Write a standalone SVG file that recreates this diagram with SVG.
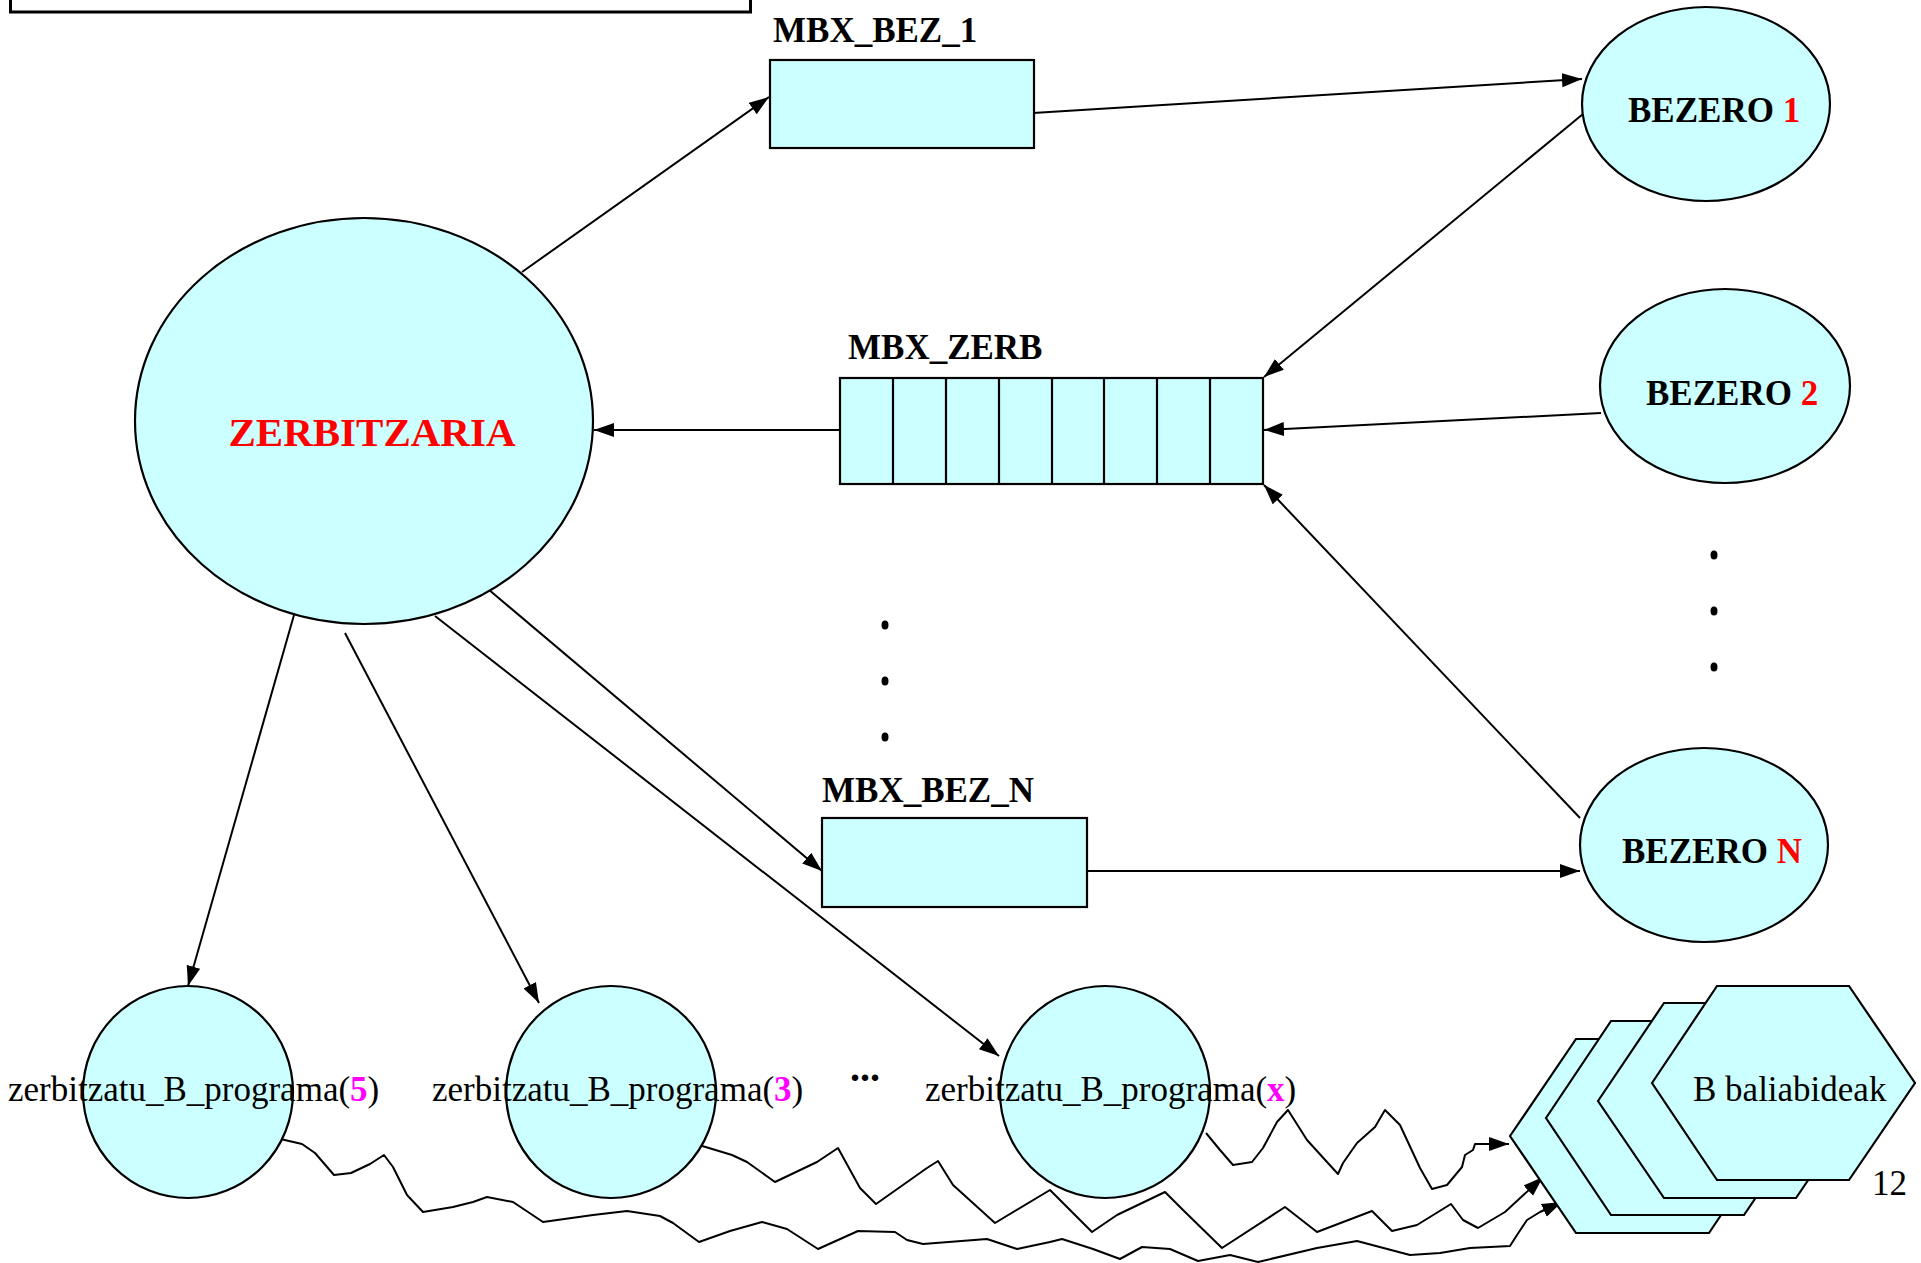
<svg xmlns="http://www.w3.org/2000/svg" width="1921" height="1263" viewBox="0 0 1921 1263">
  <style>
    .node { fill: #CCFFFF; stroke: #000; stroke-width: 2.2; }
    .frame { fill: none; stroke: #000; stroke-width: 3; }
    .lbl { font-family: "Liberation Serif", "Times New Roman", serif; font-weight: bold; font-size: 35px; fill: #000; }
    .prog { font-family: "Liberation Serif", "Times New Roman", serif; font-size: 35px; fill: #000; }
    .red { fill: #FF0000; }
    .mag { fill: #FF00FF; font-weight: bold; }
    .conn { fill: none; stroke: #000; stroke-width: 2; stroke-linejoin: round; }
    .dot { fill: #000; }
  </style>
  <defs>
    <marker id="arrow" markerUnits="userSpaceOnUse" markerWidth="22" markerHeight="16" refX="20" refY="7" orient="auto">
      <path d="M0,0 L20,7 L0,14 Z" fill="#000"/>
    </marker>
  </defs>

  <rect width="1921" height="1263" fill="#fff"/>

  <!-- frame cut off at the top edge -->
  <rect class="frame" x="10.5" y="-20" width="740" height="32"/>

  <!-- connectors -->
  <g id="connectors">
    <line class="conn" x1="522" y1="272" x2="769" y2="97" marker-end="url(#arrow)"/>
    <line class="conn" x1="1033" y1="113" x2="1582" y2="79" marker-end="url(#arrow)"/>
    <line class="conn" x1="1583" y1="114" x2="1264" y2="377" marker-end="url(#arrow)"/>
    <line class="conn" x1="1601" y1="413" x2="1264" y2="430" marker-end="url(#arrow)"/>
    <line class="conn" x1="1580" y1="818" x2="1264" y2="485" marker-end="url(#arrow)"/>
    <line class="conn" x1="840" y1="430" x2="594" y2="430" marker-end="url(#arrow)"/>
    <line class="conn" x1="488" y1="589" x2="822" y2="871" marker-end="url(#arrow)"/>
    <line class="conn" x1="1087" y1="871" x2="1580" y2="871" marker-end="url(#arrow)"/>
    <line class="conn" x1="294" y1="615" x2="188" y2="986" marker-end="url(#arrow)"/>
    <line class="conn" x1="345" y1="633" x2="539" y2="1003" marker-end="url(#arrow)"/>
    <line class="conn" x1="435" y1="616" x2="999" y2="1056" marker-end="url(#arrow)"/>

    <!-- wavy access lines to the B resources -->
    <polyline class="conn" marker-end="url(#arrow)" points="1206,1133 1220,1150 1233,1165 1252,1162 1263,1148 1277,1122 1288,1110 1307,1140 1327,1162 1338,1174 1343,1163 1357,1143 1375,1127 1385,1110 1400,1125 1420,1168 1432,1189 1447,1185 1462,1167 1465,1155 1473,1150 1475,1144 1509,1144"/>
    <polyline class="conn" marker-end="url(#arrow)" points="699,1145 732,1155 747,1162 775,1182 817,1162 838,1148 860,1188 876,1204 927,1168 938,1161 953,1185 995,1223 1050,1190 1060,1200 1092,1232 1117,1215 1165,1192 1183,1210 1222,1248 1285,1207 1317,1232 1372,1211 1392,1231 1417,1225 1451,1204 1463,1220 1478,1228 1505,1212 1543,1177"/>
    <polyline class="conn" marker-end="url(#arrow)" points="276,1138 302,1144 315,1153 334,1175 351,1173 370,1164 384,1155 393,1167 407,1195 423,1212 453,1207 473,1202 487,1197 513,1202 543,1222 593,1215 627,1211 660,1216 673,1223 699,1242 730,1231 762,1222 787,1229 818,1249 858,1231 895,1232 907,1240 923,1244 987,1239 1017,1249 1050,1242 1062,1239 1093,1249 1120,1259 1142,1247 1170,1249 1198,1261 1230,1255 1258,1262 1317,1248 1357,1241 1410,1255 1440,1253 1470,1248 1510,1246 1517,1235 1527,1220 1540,1212 1562,1202"/>
  </g>

  <!-- mailbox of the first client -->
  <g id="mbx-bez-1">
    <rect class="node" x="770" y="60" width="264" height="88"/>
    <text class="lbl" x="773" y="42">MBX_BEZ_1</text>
  </g>

  <!-- server mailbox with its message slots -->
  <g id="mbx-zerb">
    <rect class="node" x="840" y="378" width="423" height="106"/>
    <path d="M893,378V484 M946,378V484 M999,378V484 M1052,378V484 M1104,378V484 M1157,378V484 M1210,378V484" stroke="#000" stroke-width="2.2"/>
    <text class="lbl" x="848" y="359">MBX_ZERB</text>
  </g>

  <!-- mailbox of client N -->
  <g id="mbx-bez-n">
    <rect class="node" x="822" y="818" width="265" height="89"/>
    <text class="lbl" x="822" y="802">MBX_BEZ_N</text>
  </g>

  <g id="zerbitzaria">
    <ellipse class="node" cx="364" cy="421" rx="229" ry="203"/>
    <text class="lbl red" x="372" y="446" text-anchor="middle" style="font-size:41px">ZERBITZARIA</text>
  </g>

  <g id="bezero-1">
    <ellipse class="node" cx="1706" cy="104" rx="124" ry="97"/>
    <text class="lbl" x="1628" y="122">BEZERO <tspan class="red">1</tspan></text>
  </g>

  <g id="bezero-2">
    <ellipse class="node" cx="1725" cy="386" rx="125" ry="97"/>
    <text class="lbl" x="1646" y="405">BEZERO <tspan class="red">2</tspan></text>
  </g>

  <g id="bezero-n">
    <ellipse class="node" cx="1704" cy="845" rx="124" ry="97"/>
    <text class="lbl" x="1622" y="863">BEZERO <tspan class="red">N</tspan></text>
  </g>

  <!-- ellipsis marks -->
  <g id="dots">
    <ellipse class="dot" cx="885" cy="625" rx="3.5" ry="4.5"/>
    <ellipse class="dot" cx="885" cy="681" rx="3.5" ry="4.5"/>
    <ellipse class="dot" cx="885" cy="737" rx="3.5" ry="4.5"/>
    <ellipse class="dot" cx="1714" cy="555" rx="3.5" ry="4.5"/>
    <ellipse class="dot" cx="1714" cy="611" rx="3.5" ry="4.5"/>
    <ellipse class="dot" cx="1714" cy="667" rx="3.5" ry="4.5"/>
  </g>

  <g id="prog-5">
    <ellipse class="node" cx="188" cy="1092" rx="105" ry="106"/>
    <text class="prog" x="8" y="1101">zerbitzatu_B_programa(<tspan class="mag">5</tspan>)</text>
  </g>

  <g id="prog-3">
    <ellipse class="node" cx="611" cy="1092" rx="105" ry="106"/>
    <text class="prog" x="432" y="1101">zerbitzatu_B_programa(<tspan class="mag">3</tspan>)</text>
  </g>

  <text class="lbl" x="865" y="1081" text-anchor="middle" style="font-size:40px">...</text>

  <g id="prog-x">
    <ellipse class="node" cx="1105" cy="1092" rx="105" ry="106"/>
    <text class="prog" x="925" y="1101">zerbitzatu_B_programa(<tspan class="mag">x</tspan>)</text>
  </g>

  <!-- stacked resource hexagons, back to front -->
  <g id="b-baliabideak">
    <polygon class="node" points="1510,1136 1576,1039 1709,1039 1774,1136 1709,1233 1576,1233"/>
    <polygon class="node" points="1546,1118 1611,1021 1744,1021 1810,1118 1744,1215 1611,1215"/>
    <polygon class="node" points="1598,1101 1664,1003 1796,1003 1862,1101 1796,1198 1664,1198"/>
    <polygon class="node" points="1652,1083 1717,986 1849,986 1915,1083 1849,1180 1717,1180"/>
    <text class="prog" x="1693" y="1101">B baliabideak</text>
  </g>

  <text class="prog" x="1872" y="1195">12</text>
</svg>
